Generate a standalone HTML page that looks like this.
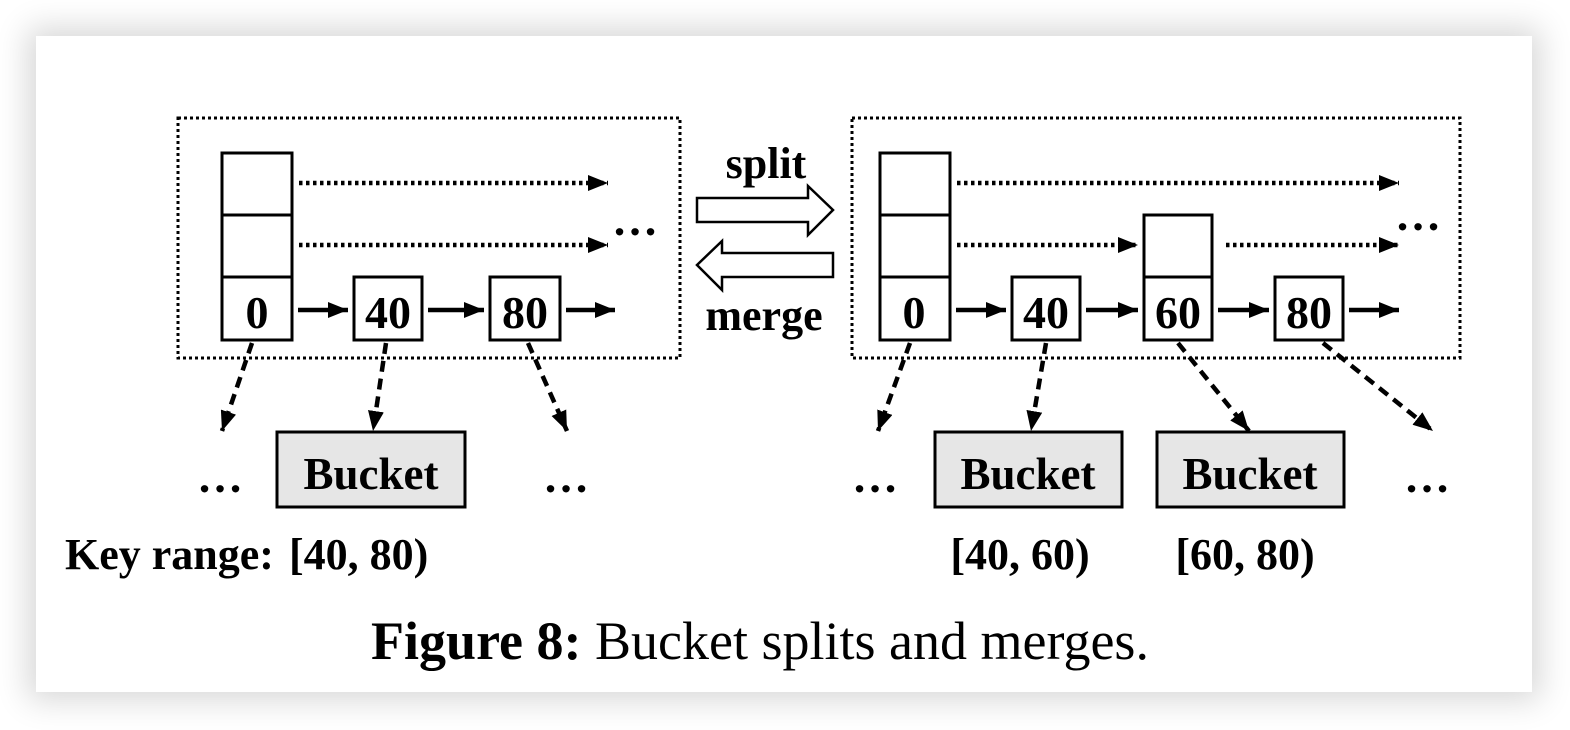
<!DOCTYPE html>
<html><head><meta charset="utf-8"><style>
html,body{margin:0;padding:0;background:#fff;}
#wrap{position:relative;width:1570px;height:730px;background:#fff;overflow:hidden}
#card{position:absolute;left:36px;top:36px;width:1496px;height:656px;background:#fff;box-shadow:0 0 30px 8px rgba(0,0,0,0.16)}
svg{position:absolute;left:0;top:0}
text{font-family:"Liberation Serif",serif;font-weight:bold;fill:#000}
</style></head><body>
<div id="wrap">
<div id="card"></div>
<svg width="1570" height="730" viewBox="0 0 1570 730">
<defs>
<marker id="ah2" viewBox="0 0 20 16" refX="20" refY="8" markerWidth="20" markerHeight="16" orient="auto" markerUnits="userSpaceOnUse"><path d="M0,0 L20,8 L0,16 z"/></marker>
</defs>
<g stroke="#000" fill="none">
<rect x="178" y="118" width="502" height="240" stroke-width="3" stroke-dasharray="3,3"/>
<rect x="222" y="153" width="70" height="187" stroke-width="3" fill="#fff"/>
<line x1="222" y1="215" x2="292" y2="215" stroke-width="3"/>
<line x1="222" y1="277" x2="292" y2="277" stroke-width="3"/>
<rect x="354" y="277" width="68" height="63" stroke-width="3" fill="#fff"/>
<rect x="490" y="277" width="70" height="63" stroke-width="3" fill="#fff"/>
<g stroke-width="4.5">
<line x1="298" y1="310" x2="348" y2="310" marker-end="url(#ah2)"/>
<line x1="428" y1="310" x2="484" y2="310" marker-end="url(#ah2)"/>
<line x1="566" y1="310" x2="615" y2="310" marker-end="url(#ah2)"/>
</g>
<g stroke-width="4.5" stroke-dasharray="3.5,3.5">
<line x1="299" y1="183" x2="608" y2="183" marker-end="url(#ah2)"/>
<line x1="299" y1="245" x2="608" y2="245" marker-end="url(#ah2)"/>
</g>
<g stroke-width="4.5" stroke-dasharray="11,7">
<line x1="252" y1="343" x2="222" y2="431" marker-end="url(#ah2)"/>
<line x1="386" y1="343" x2="373" y2="431" marker-end="url(#ah2)"/>
<line x1="528" y1="343" x2="567" y2="431" marker-end="url(#ah2)"/>
</g>
<rect x="277" y="432" width="188" height="75" stroke-width="3" fill="#e6e6e6"/>
<path d="M697,198 H808 V186 L833,210 L808,235 V222 H697 Z" stroke-width="2.5" fill="#fff"/>
<path d="M833,253 H722 V241 L697,265 L722,290 V277 H833 Z" stroke-width="2.5" fill="#fff"/>
<rect x="852" y="118" width="608" height="240" stroke-width="3" stroke-dasharray="3,3"/>
<rect x="880" y="153" width="70" height="187" stroke-width="3" fill="#fff"/>
<line x1="880" y1="215" x2="950" y2="215" stroke-width="3"/>
<line x1="880" y1="277" x2="950" y2="277" stroke-width="3"/>
<rect x="1012" y="277" width="68" height="63" stroke-width="3" fill="#fff"/>
<rect x="1144" y="215" width="68" height="125" stroke-width="3" fill="#fff"/>
<line x1="1144" y1="277" x2="1212" y2="277" stroke-width="3"/>
<rect x="1275" y="277" width="68" height="63" stroke-width="3" fill="#fff"/>
<g stroke-width="4.5">
<line x1="956" y1="310" x2="1006" y2="310" marker-end="url(#ah2)"/>
<line x1="1086" y1="310" x2="1138" y2="310" marker-end="url(#ah2)"/>
<line x1="1218" y1="310" x2="1269" y2="310" marker-end="url(#ah2)"/>
<line x1="1349" y1="310" x2="1399" y2="310" marker-end="url(#ah2)"/>
</g>
<g stroke-width="4.5" stroke-dasharray="3.5,3.5">
<line x1="957" y1="183" x2="1399" y2="183" marker-end="url(#ah2)"/>
<line x1="957" y1="245" x2="1138" y2="245" marker-end="url(#ah2)"/>
<line x1="1226" y1="245" x2="1399" y2="245" marker-end="url(#ah2)"/>
</g>
<g stroke-width="4.5" stroke-dasharray="11,7">
<line x1="910" y1="343" x2="878" y2="431" marker-end="url(#ah2)"/>
<line x1="1046" y1="343" x2="1031" y2="431" marker-end="url(#ah2)"/>
<line x1="1178" y1="343" x2="1249" y2="431" marker-end="url(#ah2)"/>
<line x1="1323" y1="343" x2="1433" y2="431" marker-end="url(#ah2)"/>
</g>
<rect x="935" y="432" width="187" height="75" stroke-width="3" fill="#e6e6e6"/>
<rect x="1157" y="432" width="187" height="75" stroke-width="3" fill="#e6e6e6"/>
</g>
<g font-size="46" text-anchor="middle">
<text x="257" y="328">0</text>
<text x="388" y="328">40</text>
<text x="525" y="328">80</text>
<text x="914" y="328">0</text>
<text x="1046" y="328">40</text>
<text x="1178" y="328">60</text>
<text x="1309" y="328">80</text>
<text x="371" y="489" font-size="45">Bucket</text>
<text x="1028" y="489" font-size="45">Bucket</text>
<text x="1250" y="489" font-size="45">Bucket</text>
<text x="635" y="235">…</text>
<text x="1418" y="230">…</text>
<text x="220" y="492">…</text>
<text x="566" y="492">…</text>
<text x="875" y="492">…</text>
<text x="1427" y="492">…</text>
<text x="766" y="178" font-size="44">split</text>
<text x="764" y="330" font-size="44">merge</text>
<text x="1020" y="569" font-size="44">[40, 60)</text>
<text x="1245" y="569" font-size="44">[60, 80)</text>
</g>
<text x="65" y="569" font-size="44">Key range: <tspan dx="4">[40, 80)</tspan></text>
<text x="760" y="659" font-size="54" text-anchor="middle">Figure 8:<tspan font-weight="normal"> Bucket splits and merges.</tspan></text>
</svg>
</div>
</body></html>
